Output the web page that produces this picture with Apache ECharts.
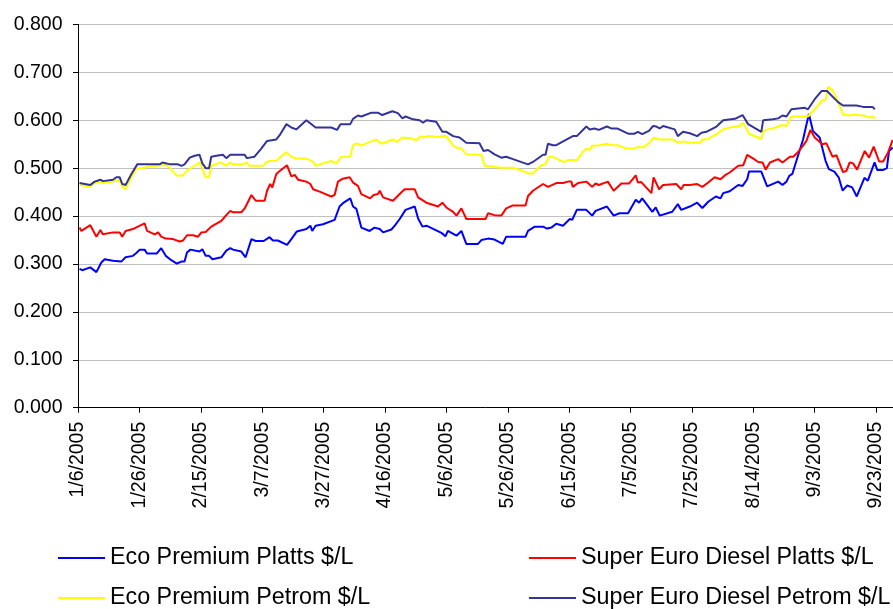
<!DOCTYPE html>
<html>
<head>
<meta charset="utf-8">
<script src="https://cdn.jsdelivr.net/npm/echarts@6/dist/echarts.min.js"></script>
<style>html,body{margin:0;padding:0;background:#fff;}#c{width:893px;height:609px;}</style>
</head>
<body>
<div id="c"></div>
<script>
// Day offsets are days since 1/6/2005
const startDate = Date.UTC(2005, 0, 6);
const yTicks = [0, 0.1, 0.2, 0.3, 0.4, 0.5, 0.6, 0.7, 0.8];
const seriesNames = ['Eco Premium Platts $/L', 'Super Euro Diesel Platts $/L', 'Eco Premium Petrom $/L', 'Super Euro Diesel Petrom $/L'];

const ecoPlattsDays = [0.5,1.4,4,6,7.6,8.7,11.4,14.1,15.5,17.9,19,20.1,21.7,22.5,25.7,27.1,28.6,30.4,32.2,33.7,34.7,35.5,36.6,39.6,40.5,41.6,42.7,43.8,46.7,48.3,49.6,50.5,53.2,54.6,56.5,57.9,60.5,62.4,63.5,65.1,68.1,69.5,71.3,74.4,75.7,76.3,77.4,79.8,83.6,85.2,86.3,88.7,89.6,90.7,92.3,95,96.6,98.3,99.4,102.1,103.2,104.8,106.7,109.7,110.8,112.2,113.5,118.4,119.7,120.5,123.3,124.9,126.5,130.3,131.4,133.6,135.7,138.4,139.5,145.8,146.6,148.8,151.5,152.8,154.2,155.8,158,160.2,161,162.5,165.6,167.5,168.6,172.3,174.5,176.4,179.2,181.7,182.8,183.8,187.1,188.2,189.5,193.6,195.4,196.5,199.3,201.7,203.4,205.3,207.8,209.3,210.2,212.3,215.1,216.5,218,218.6,222.6,224.5,228.1,229.5,230.8,231.7,232.7,236.2,238.1,239.4,241.6,243.5,244.6,246.4,247.8,249.1,250.6,252.2,253.7,256.2,257.3,259.5,260.4,262.2,263.5,264.2,265.4];
const ecoPlattsVals = [0.290,0.287,0.293,0.283,0.303,0.310,0.307,0.305,0.314,0.317,0.323,0.330,0.330,0.322,0.322,0.333,0.317,0.308,0.301,0.305,0.305,0.324,0.330,0.326,0.331,0.317,0.317,0.310,0.314,0.328,0.333,0.330,0.326,0.314,0.352,0.348,0.348,0.356,0.349,0.349,0.340,0.352,0.368,0.373,0.380,0.369,0.380,0.383,0.392,0.420,0.427,0.437,0.420,0.415,0.376,0.369,0.376,0.373,0.366,0.372,0.380,0.394,0.413,0.420,0.395,0.378,0.380,0.365,0.358,0.369,0.359,0.369,0.342,0.342,0.350,0.353,0.351,0.342,0.357,0.357,0.369,0.378,0.378,0.374,0.376,0.384,0.380,0.394,0.392,0.413,0.413,0.401,0.411,0.420,0.401,0.406,0.406,0.434,0.428,0.437,0.409,0.418,0.401,0.409,0.425,0.413,0.420,0.428,0.417,0.430,0.441,0.437,0.448,0.452,0.465,0.463,0.477,0.493,0.493,0.462,0.472,0.465,0.472,0.484,0.488,0.560,0.613,0.578,0.564,0.516,0.498,0.493,0.481,0.453,0.464,0.460,0.441,0.480,0.474,0.512,0.496,0.496,0.500,0.536,0.543];

const dieselPlattsDays = [0.5,1.1,4,6,7.3,8.1,11.4,13.6,14.4,15.5,17.9,19.5,21.7,22.5,25,26.1,27.1,28.6,31,33.1,34.2,35.5,37.5,39.1,40.2,41.6,43.4,46.7,48.3,49.6,50.5,53.2,54.3,56.5,57.9,60.8,61.6,62.6,63.3,64.6,65.7,68.1,69.5,70.6,71.7,74.4,75.7,76.6,78.7,82.5,83.6,84.7,86.3,88.5,89.6,91.2,92.3,95.2,96.3,97.7,98.3,99.4,102.6,104.8,106.4,109.7,110.8,113.5,117.3,118.7,120,122.2,123.3,124.9,126.5,132.8,133.6,135.7,137.9,139.5,141.5,145.8,146.6,148.2,151.5,153.1,155.8,158,159.6,160.7,161.2,162.9,165.6,167.5,168.6,169.7,172.6,174.5,177,179.5,181.7,182.4,183.5,186.8,187.5,189.3,190.6,194.9,196.5,197.3,199.3,201.7,203.4,205.3,207.4,209.3,210.7,212.3,215.1,216.7,218,220,221.6,223,224,225.4,228.1,229.5,231.9,233,234.6,236.2,237.3,238.6,240,242.5,243.8,245.8,247.1,249.2,250.3,251.4,252.5,253.8,256.3,257.7,259.2,261,262.3,263.9,265.4];
const dieselPlattsVals = [0.376,0.369,0.381,0.357,0.371,0.362,0.366,0.366,0.357,0.369,0.373,0.378,0.385,0.369,0.362,0.366,0.357,0.353,0.352,0.347,0.349,0.360,0.360,0.357,0.366,0.367,0.378,0.390,0.402,0.411,0.408,0.408,0.416,0.444,0.432,0.432,0.453,0.467,0.460,0.488,0.494,0.506,0.483,0.486,0.476,0.472,0.467,0.456,0.451,0.441,0.444,0.472,0.478,0.481,0.470,0.463,0.446,0.437,0.444,0.446,0.453,0.439,0.432,0.446,0.456,0.456,0.439,0.428,0.420,0.428,0.418,0.409,0.401,0.416,0.394,0.394,0.406,0.402,0.401,0.416,0.422,0.422,0.442,0.453,0.467,0.461,0.469,0.469,0.472,0.472,0.461,0.469,0.472,0.461,0.468,0.465,0.472,0.453,0.468,0.468,0.485,0.470,0.471,0.448,0.481,0.456,0.465,0.467,0.456,0.465,0.465,0.467,0.461,0.470,0.481,0.477,0.485,0.491,0.505,0.506,0.528,0.520,0.513,0.512,0.497,0.512,0.519,0.512,0.524,0.524,0.534,0.547,0.557,0.580,0.564,0.550,0.552,0.524,0.527,0.492,0.494,0.512,0.510,0.497,0.536,0.522,0.545,0.514,0.514,0.533,0.559];

const ecoPetromDays = [0.5,4,5.4,7.3,8.1,11.4,13.4,14.4,15.5,17.4,19,21.7,22.8,27.1,28.8,29.9,32,34.2,35.3,37.5,39.6,40.5,41.6,42.7,43.4,45.6,46.7,48.3,49.6,50.5,53.7,55,55.7,60.3,61.3,62.4,64.6,65.7,67.9,69.5,71.1,74.4,76.6,77.4,79.8,82.5,84.2,85.8,88.7,89.6,90.9,92.3,95,97.2,98.8,102.6,103.9,105.7,108.6,110.2,111.8,112.6,114,117.3,118.4,120,122.2,123.3,124.9,126.5,128.1,131.4,132.5,135.7,137.4,141.7,145,146.6,148.2,150.9,152.3,153.4,154.7,157.4,158.5,159.6,162.5,164.5,165.6,166.7,167.5,169.9,172.1,173.7,175.9,178.6,181.3,182.7,184,186.2,187.5,189.3,193.8,195.4,197.1,199.3,202.6,203.6,205.3,208,210.2,212.3,215.6,216.7,218.6,222.6,223.4,227.3,229.2,230.8,232.4,237.8,240,242.5,243.6,244.4,245.8,247.6,249.2,251.4,252.5,255.8,258,259,259.6];
const ecoPetromVals = [0.465,0.462,0.469,0.472,0.469,0.472,0.476,0.462,0.456,0.481,0.499,0.501,0.503,0.506,0.506,0.501,0.485,0.485,0.494,0.503,0.512,0.499,0.481,0.481,0.505,0.510,0.512,0.505,0.512,0.508,0.508,0.512,0.505,0.505,0.512,0.515,0.515,0.522,0.533,0.524,0.520,0.520,0.513,0.505,0.510,0.515,0.510,0.524,0.524,0.548,0.552,0.547,0.555,0.560,0.551,0.560,0.555,0.564,0.562,0.559,0.567,0.564,0.567,0.565,0.567,0.567,0.547,0.543,0.541,0.529,0.528,0.528,0.505,0.503,0.501,0.501,0.494,0.489,0.489,0.506,0.508,0.524,0.524,0.515,0.513,0.517,0.517,0.534,0.541,0.538,0.547,0.548,0.551,0.548,0.548,0.541,0.541,0.545,0.543,0.553,0.564,0.560,0.560,0.553,0.556,0.553,0.553,0.560,0.561,0.571,0.581,0.585,0.588,0.595,0.572,0.561,0.579,0.585,0.590,0.588,0.608,0.608,0.623,0.642,0.643,0.670,0.663,0.640,0.612,0.610,0.612,0.610,0.606,0.608,0.603];

const dieselPetromDays = [0.5,4,5.4,7.3,8.1,11.4,12.5,13.6,14.4,15.5,17.4,19.3,26.6,27.5,28.8,29.9,32.6,33.7,34.7,36.4,38,39.6,40.5,41.6,42.7,43.4,45.1,47.2,48.3,49.6,54.3,55,57.5,59.7,61.6,64.6,65.7,67.9,69.5,71.1,74.4,77.4,82.5,84.4,85.5,88.7,89.6,91.2,92.3,95.6,97.7,99.1,102.4,104.2,105.7,106.7,109.1,111.3,112.4,113.5,116.7,118.7,120,122.2,124.3,126.5,130.8,132.1,133.6,135.7,137.9,139.5,141.7,146.6,148.2,151.5,152.3,153.1,154.7,155.8,161.2,162.5,165.6,166.7,168.3,169.7,172.3,173.7,175.6,179.2,181.3,182.4,183.8,186,187.3,188.4,189.5,190.6,194.4,195.4,197.1,199.3,201.7,203.1,204.7,208,210.2,214,216.5,218.3,222.6,223.2,226.4,228.1,229.5,230.8,232.4,236.8,237.8,240,242.2,242.7,244,247.6,249.2,253.6,255.8,258.8,259.6];
const dieselPetromVals = [0.469,0.465,0.472,0.476,0.473,0.476,0.481,0.481,0.467,0.465,0.488,0.508,0.508,0.512,0.510,0.508,0.508,0.505,0.508,0.522,0.526,0.528,0.510,0.500,0.500,0.524,0.526,0.528,0.521,0.528,0.528,0.521,0.524,0.541,0.557,0.560,0.569,0.592,0.585,0.581,0.600,0.585,0.585,0.580,0.592,0.592,0.603,0.610,0.608,0.616,0.616,0.611,0.619,0.615,0.604,0.608,0.602,0.600,0.595,0.600,0.597,0.576,0.576,0.567,0.564,0.553,0.552,0.536,0.538,0.529,0.522,0.524,0.519,0.508,0.513,0.528,0.528,0.551,0.548,0.548,0.567,0.567,0.587,0.581,0.583,0.580,0.587,0.583,0.583,0.572,0.572,0.576,0.571,0.578,0.588,0.587,0.583,0.588,0.581,0.567,0.576,0.573,0.567,0.574,0.576,0.587,0.600,0.603,0.611,0.592,0.576,0.600,0.602,0.604,0.610,0.608,0.623,0.626,0.623,0.644,0.661,0.663,0.661,0.638,0.631,0.631,0.628,0.628,0.623];

const colors = ['#0000FF', '#FF0000', '#FFFF00', '#333399'];
const FONT = '"Liberation Sans", Arial, sans-serif';

function pairs(days, vals) { return days.map((d, i) => [d, vals[i]]); }
const allData = [
  pairs(ecoPlattsDays, ecoPlattsVals),
  pairs(dieselPlattsDays, dieselPlattsVals),
  pairs(ecoPetromDays, ecoPetromVals),
  pairs(dieselPetromDays, dieselPetromVals)
];

function dayLabel(v) {
  const d = new Date(startDate + Math.round(v) * 86400000);
  return (d.getUTCMonth() + 1) + '/' + d.getUTCDate() + '/' + d.getUTCFullYear();
}

// one legend component per item, laid out as 2 columns x 2 rows
const legendPos = [[58, 545], [529, 545], [58, 585], [529, 585]];
const legends = seriesNames.map((name, i) => ({
  data: [name], orient: 'horizontal', left: legendPos[i][0], top: legendPos[i][1],
  itemWidth: 47, itemHeight: 2, itemGap: 0, icon: 'rect', padding: 0,
  textStyle: { fontFamily: FONT, fontSize: 23.3, color: '#000', lineHeight: 26 }
}));

const chart = echarts.init(document.getElementById('c'), null, { renderer: 'canvas' });
chart.setOption({
  animation: false,
  backgroundColor: '#ffffff',
  grid: { left: 78, top: 24.5, width: 815, height: 383.2, containLabel: false },
  xAxis: {
    type: 'value', min: 0, max: 265.5, interval: 20,
    axisLine: { show: true, onZero: false, lineStyle: { color: '#000', width: 1 } },
    axisTick: { show: true, length: 5, lineStyle: { color: '#000' } },
    splitLine: { show: false },
    axisLabel: {
      rotate: 90, margin: 14, showMaxLabel: false, color: '#000',
      fontFamily: FONT, fontSize: 19.5, formatter: dayLabel
    }
  },
  yAxis: {
    type: 'value', min: yTicks[0], max: yTicks[yTicks.length - 1], interval: 0.1,
    axisLine: { show: true, lineStyle: { color: '#000', width: 1 } },
    axisTick: { show: true, length: 5, lineStyle: { color: '#000' } },
    splitLine: { show: true, lineStyle: { color: '#C0C0C0', width: 1 } },
    axisLabel: { margin: 15.5, color: '#000', fontFamily: FONT, fontSize: 19.5, formatter: v => v.toFixed(3) }
  },
  legend: legends,
  series: seriesNames.map((name, i) => ({
    name: name, type: 'line', data: allData[i], showSymbol: false, symbol: 'none',
    smooth: false, color: colors[i],
    lineStyle: { color: colors[i], width: 2 }
  }))
});
</script>
</body>
</html>
